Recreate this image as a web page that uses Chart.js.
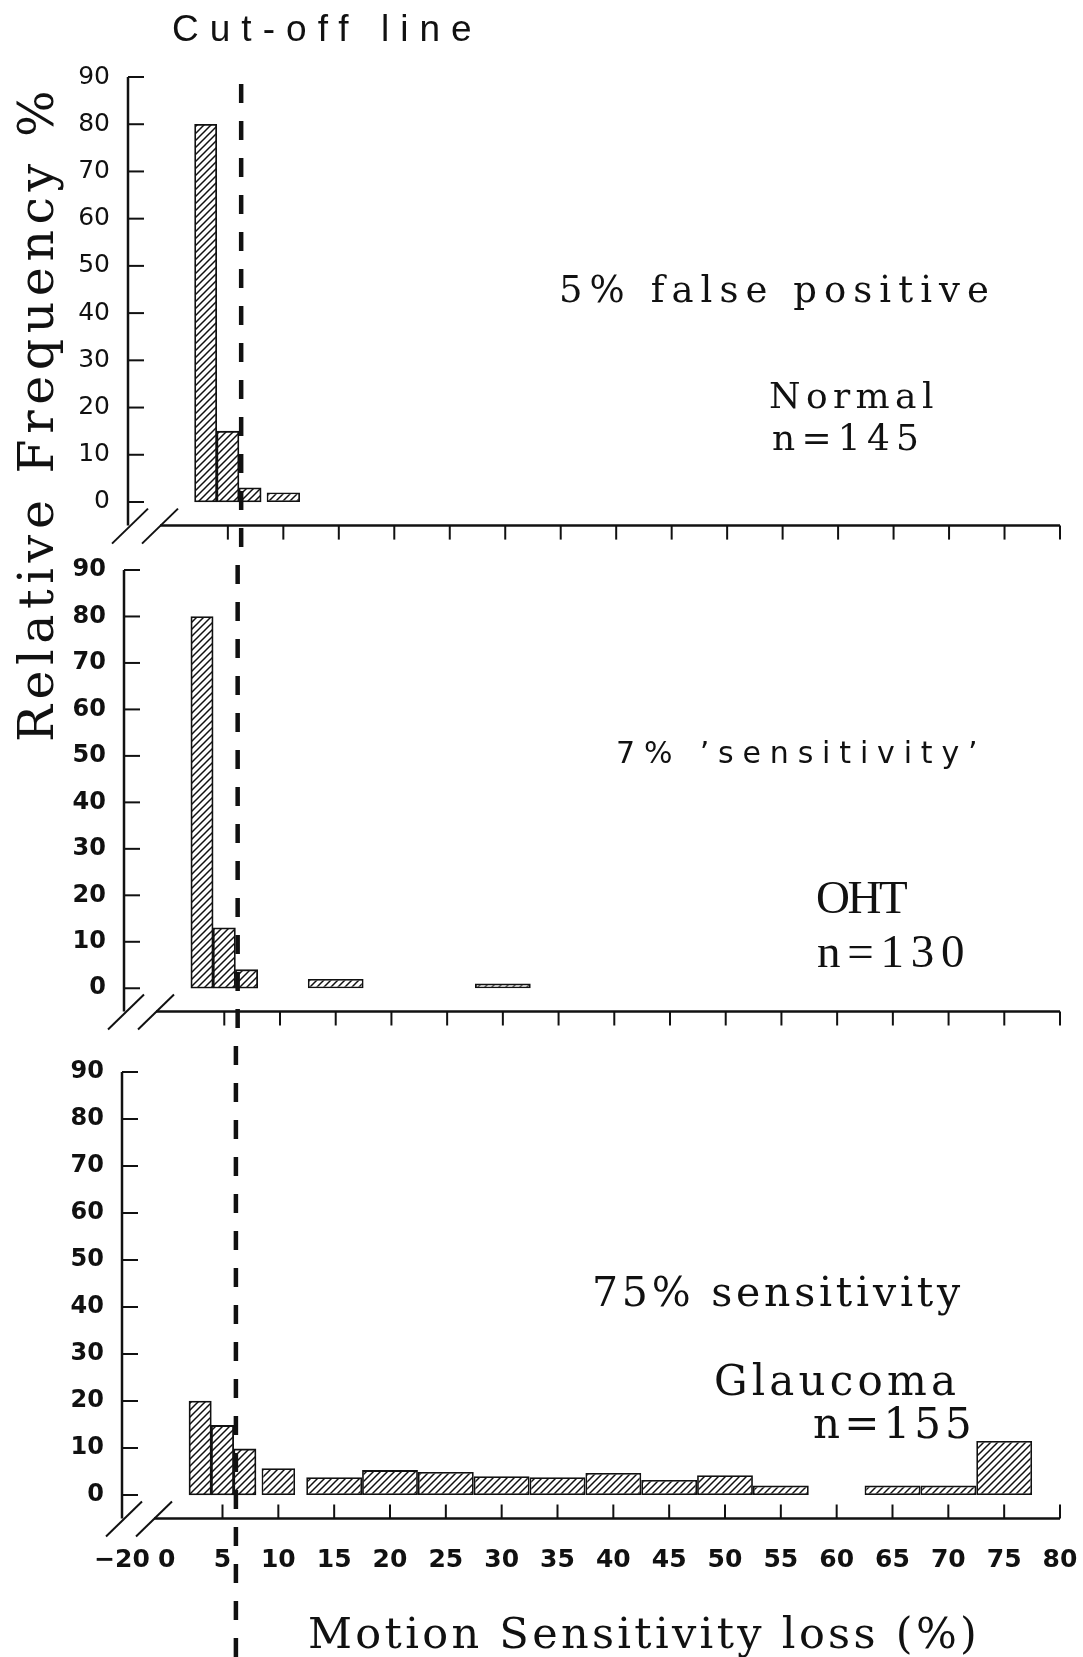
<!DOCTYPE html>
<html lang="en">
<head>
<meta charset="UTF-8" />
<title>Motion sensitivity loss – Normal / OHT / Glaucoma</title>
<script src="https://cdn.jsdelivr.net/npm/chart.js"></script>
<style>
  body {
    margin: 0;
    background: #fff;
    width: 1083px;
    height: 1657px;
    position: relative;
    overflow: hidden;
  }
  canvas {
    position: absolute;
    left: 0;
  }
  .note {
    position: absolute;
    white-space: nowrap;
    color: #111;
    line-height: 1;
  }
</style>
</head>
<body>
<canvas id="normalChart" width="1083" height="548" style="top:0px"></canvas>
<canvas id="ohtChart" width="1083" height="492" style="top:548px"></canvas>
<canvas id="glaucomaChart" width="1083" height="617" style="top:1040px"></canvas>
<div id="notes"></div>

<script>
  // histogram bins of motion sensitivity loss (%)
  const binLow = [2, 4, 6, 8.5, 12.5, 17.5, 22.5, 27.5, 32.5, 37.5, 42.5, 47.5, 52.5, 57.5, 62.5, 67.5, 72.5];
  const binHigh = [4, 6, 8, 11.5, 17.5, 22.5, 27.5, 32.5, 37.5, 42.5, 47.5, 52.5, 57.5, 62.5, 67.5, 72.5, 77.5];

  // relative frequency (%) per bin, null = empty bin
  const normalPct = [80, 15, 3, 2, null, null, null, null, null, null, null, null, null, null, null, null, null];
  const ohtPct = [80, 13, 4, null, 2, null, null, 1, null, null, null, null, null, null, null, null, null];
  const glaucomaPct = [20, 14.8, 9.8, 5.7, 3.8, 5.3, 4.9, 4.0, 3.8, 4.7, 3.2, 4.2, 2.0, null, 2.0, 2.0, 11.5];

  const cutOff = 6.2;

  const freqTicks = [0, 10, 20, 30, 40, 50, 60, 70, 80, 90];
  // -4 is where -20 sits behind the axis break
  const lossTickValues = [-4, 0, 5, 10, 15, 20, 25, 30, 35, 40, 45, 50, 55, 60, 65, 70, 75, 80];
  const lossTickLabels = ['−20', '0', '5', '10', '15', '20', '25', '30', '35', '40', '45', '50', '55', '60', '65', '70', '75', '80'];

  const ink = '#111';

  // diagonal hatch tile for the bars
  const hatchTile = document.createElement('canvas');
  hatchTile.width = hatchTile.height = 7;
  (function () {
    const t = hatchTile.getContext('2d');
    t.fillStyle = '#fff';
    t.fillRect(0, 0, 7, 7);
    t.strokeStyle = ink;
    t.lineWidth = 1.5;
    t.beginPath();
    t.moveTo(-2, 9); t.lineTo(9, -2);
    t.moveTo(-2, 2); t.lineTo(2, -2);
    t.moveTo(5, 9); t.lineTo(9, 5);
    t.stroke();
  })();

  // axis lines, inner ticks, break marks and the dashed cut-off line
  const axisFrame = {
    id: 'axisFrame',
    afterDraw(chart, args, opts) {
      const { ctx, chartArea: a, scales: { x, y } } = chart;
      const seg = (x1, y1, x2, y2) => {
        ctx.beginPath();
        ctx.moveTo(x1, y1);
        ctx.lineTo(x2, y2);
        ctx.stroke();
      };
      ctx.save();
      ctx.strokeStyle = ink;
      ctx.lineCap = 'butt';

      ctx.lineWidth = 2.5;
      seg(a.left, a.top, a.left, a.bottom);
      seg(a.left + 32, a.bottom, a.right, a.bottom);

      ctx.lineWidth = 2;
      freqTicks.forEach(v => {
        const py = y.getPixelForValue(v);
        seg(a.left, py, a.left + 16, py);
      });
      x.ticks.forEach(t => {
        if (t.value <= 0) return;
        const px = x.getPixelForValue(t.value);
        seg(px, a.bottom, px, a.bottom + opts.tickDir * 14);
      });

      seg(a.left - 16, a.bottom + 18, a.left + 20, a.bottom - 17);
      seg(a.left + 14, a.bottom + 18, a.left + 50, a.bottom - 17);

      const cx = x.getPixelForValue(cutOff);
      ctx.lineWidth = 4.5;
      ctx.setLineDash([19, 18]);
      ctx.lineDashOffset = (((opts.pageTop + opts.cutFrom - 84) % 37) + 37) % 37;
      seg(cx, opts.cutFrom, cx, chart.height);
      ctx.restore();
    }
  };

  const centres = binLow.map((lo, i) => (lo + binHigh[i]) / 2);
  const widths = [...new Set(binLow.map((lo, i) => binHigh[i] - lo))];
  let minGap = Infinity;
  for (let i = 1; i < centres.length; i++) minGap = Math.min(minGap, centres[i] - centres[i - 1]);

  function makePanel(id, pct, o) {
    const canvas = document.getElementById(id);
    const ctx = canvas.getContext('2d');
    const hatch = ctx.createPattern(hatchTile, 'repeat');

    // one dataset per bin width so every bar spans its own bin
    const datasets = widths.map(w => ({
      data: centres
        .map((c, i) => ({ x: c, y: pct[i], w: binHigh[i] - binLow[i] }))
        .filter(p => p.y != null && p.w === w),
      backgroundColor: hatch,
      borderColor: ink,
      borderWidth: 1.8,
      borderSkipped: false,
      grouped: false,
      categoryPercentage: 1,
      barPercentage: w / minGap
    }));

    return new Chart(ctx, {
      type: 'bar',
      data: { datasets },
      options: {
        responsive: false,
        animation: false,
        events: [],
        layout: {
          padding: { top: o.area.top, right: canvas.width - o.area.right, left: 0, bottom: 0 }
        },
        plugins: {
          legend: { display: false },
          tooltip: { enabled: false },
          axisFrame: { tickDir: o.tickDir, pageTop: o.pageTop, cutFrom: o.cutFrom }
        },
        scales: {
          x: {
            type: 'linear',
            min: -4,
            max: 80,
            offset: false,
            grid: { display: false, drawTicks: false },
            border: { display: false },
            afterBuildTicks: s => { s.ticks = lossTickValues.map(v => ({ value: v })); },
            afterFit: s => {
              s.height = canvas.height - o.area.bottom;
              s.paddingLeft = 0;
              s.paddingRight = 0;
            },
            ticks: {
              display: o.showLoss,
              autoSkip: false,
              maxRotation: 0,
              padding: 27,
              color: ink,
              font: { family: '"DejaVu Sans"', size: 25, weight: 'bold' },
              callback: (v, i) => lossTickLabels[i]
            }
          },
          y: {
            min: -5,
            max: 90,
            grid: { display: false, drawTicks: false },
            border: { display: false },
            afterBuildTicks: s => { s.ticks = freqTicks.map(v => ({ value: v })); },
            afterFit: s => {
              s.width = o.area.left;
              s.paddingTop = 0;
              s.paddingBottom = 0;
            },
            ticks: {
              padding: 18,
              color: ink,
              font: o.yFont
            }
          }
        }
      },
      plugins: [axisFrame]
    });
  }

  makePanel('normalChart', normalPct, {
    area: { left: 128, right: 1060, top: 77, bottom: 525.6 },
    pageTop: 0, cutFrom: 84, tickDir: 1, showLoss: false,
    yFont: { family: '"DejaVu Sans"', size: 25, weight: 'normal' }
  });
  makePanel('ohtChart', ohtPct, {
    area: { left: 124, right: 1060, top: 22, bottom: 463.5 },
    pageTop: 548, cutFrom: 0, tickDir: 1, showLoss: false,
    yFont: { family: '"DejaVu Sans"', size: 24, weight: 'bold' }
  });
  makePanel('glaucomaChart', glaucomaPct, {
    area: { left: 122, right: 1060, top: 32, bottom: 478.5 },
    pageTop: 1040, cutFrom: 0, tickDir: -1, showLoss: true,
    yFont: { family: '"DejaVu Sans"', size: 24, weight: 'bold' }
  });

  // text placed by ink left edge, baseline and overall span
  const notes = [
    { text: 'Cut-off line', family: '"Liberation Sans"', size: 37, x: 173, base: 41, span: 297 },
    { text: '5% false positive', family: '"DejaVu Serif"', size: 37, x: 562, base: 302, span: 426 },
    { text: 'Normal', family: '"DejaVu Serif"', size: 36, x: 770, base: 408, span: 163 },
    { text: 'n=145', family: '"DejaVu Serif"', size: 36, x: 773, base: 450, span: 144 },
    { text: '7% ’sensitivity’', family: '"DejaVu Sans"', size: 30, x: 618, base: 763, span: 357 },
    { text: 'OHT', family: '"Liberation Serif"', size: 47, x: 817, base: 913, span: 90 },
    { text: 'n=130', family: '"Liberation Serif"', size: 47, x: 818, base: 967, span: 145 },
    { text: '75% sensitivity', family: '"DejaVu Serif"', size: 41, x: 595, base: 1306, span: 366 },
    { text: 'Glaucoma', family: '"DejaVu Serif"', size: 42, x: 716, base: 1395, span: 239 },
    { text: 'n=155', family: '"DejaVu Serif"', size: 42, x: 814, base: 1438, span: 155 },
    { text: 'Motion Sensitivity loss (%)', family: '"DejaVu Serif"', size: 43, x: 310, base: 1648, span: 664 },
    { text: 'Relative Frequency %', family: '"DejaVu Serif"', size: 49, x: 740, base: 53, span: 647, vertical: true }
  ];

  const measure = document.createElement('canvas').getContext('2d');
  const holder = document.getElementById('notes');
  notes.forEach(n => {
    const font = n.size + 'px ' + n.family;
    measure.font = font;
    const m = measure.measureText(n.text);
    const inkWidth = m.actualBoundingBoxLeft + m.actualBoundingBoxRight;
    const spacing = (n.span - inkWidth) / (n.text.length - 1);
    const asc = m.fontBoundingBoxAscent, desc = m.fontBoundingBoxDescent;
    const baseOffset = (n.size - (asc + desc)) / 2 + asc;

    const el = document.createElement('div');
    el.className = 'note';
    el.textContent = n.text;
    el.style.font = font;
    el.style.lineHeight = '1';
    el.style.letterSpacing = spacing.toFixed(2) + 'px';
    if (n.vertical) {
      el.style.transformOrigin = '0 0';
      el.style.transform = 'rotate(-90deg)';
      el.style.left = (n.base - baseOffset) + 'px';
      el.style.top = (n.x - m.actualBoundingBoxLeft) + 'px';
    } else {
      el.style.left = (n.x + m.actualBoundingBoxLeft) + 'px';
      el.style.top = (n.base - baseOffset) + 'px';
    }
    holder.appendChild(el);
  });
</script>
</body>
</html>
